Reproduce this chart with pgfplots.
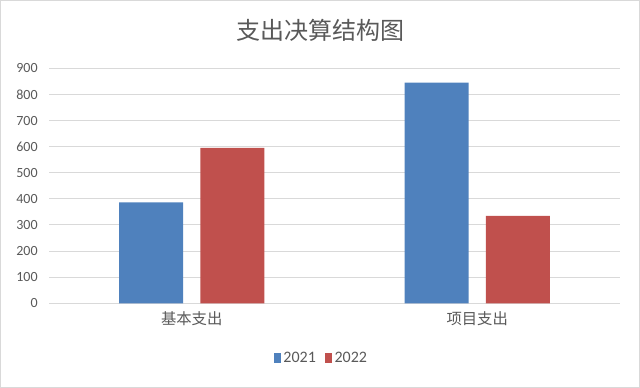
\documentclass[border=0pt]{standalone}
\usepackage{pgfplots}
\pgfplotsset{compat=1.18}
\usepackage{fontspec}
\setmainfont{Carlito}
\newfontfamily\cjk{Noto Sans CJK SC}
\definecolor{cb}{HTML}{4F81BD}
\definecolor{cr}{HTML}{C0504D}
\definecolor{txt}{HTML}{595959}
\definecolor{gridc}{HTML}{D9D9D9}
\begin{document}
\begin{tikzpicture}
\useasboundingbox (0pt,0pt) rectangle (480pt,-291pt);
\draw[gridc, line width=0.75pt] (0.4pt,-0.4pt) rectangle (479.6pt,-290.6pt);
\begin{axis}[
  at={(36.75pt,-227.5pt)}, anchor=south west,
  scale only axis, width=428.25pt, height=176.25pt,
  xmin=-0.5, xmax=1.5, ymin=0, ymax=900,
  ytick={0,100,...,900}, xtick={0,1},
  xticklabels={基本支出,项目支出},
  xticklabel style={font=\cjk\fontsize{11.5}{13}\selectfont, text=txt, yshift=-3pt},
  yticklabel style={font=\fontsize{10.5}{12}\selectfont, text=txt, xshift=-5pt},
  /pgf/number format/assume math mode=true,
  major tick length=0pt,
  axis line style={draw=none},
  ymajorgrids, grid style={draw=gridc, line width=0.75pt},
  ybar, bar width=48pt,
  legend columns=2,
  legend style={at={(0.478,-0.233)}, anchor=center, draw=none, fill=none,
    font=\fontsize{12}{14}\selectfont, text=txt,
    /tikz/every odd column/.append style={column sep=0pt},
    /tikz/every even column/.append style={column sep=5pt}},
  legend image code/.code={\fill[#1] (0pt,-3.5pt) rectangle (5pt,3.5pt);},
]
\addplot[fill=cb, draw=none, bar shift=-30.5pt] coordinates {(0,387) (1,845)};
\addplot[fill=cr, draw=none, bar shift=30.5pt] coordinates {(0,595) (1,335)};
\legend{2021,2022}
\end{axis}
\node[text=txt, font=\cjk\fontsize{18}{20}\selectfont] at (240pt,-22.5pt) {支出决算结构图};
\end{tikzpicture}
\end{document}
